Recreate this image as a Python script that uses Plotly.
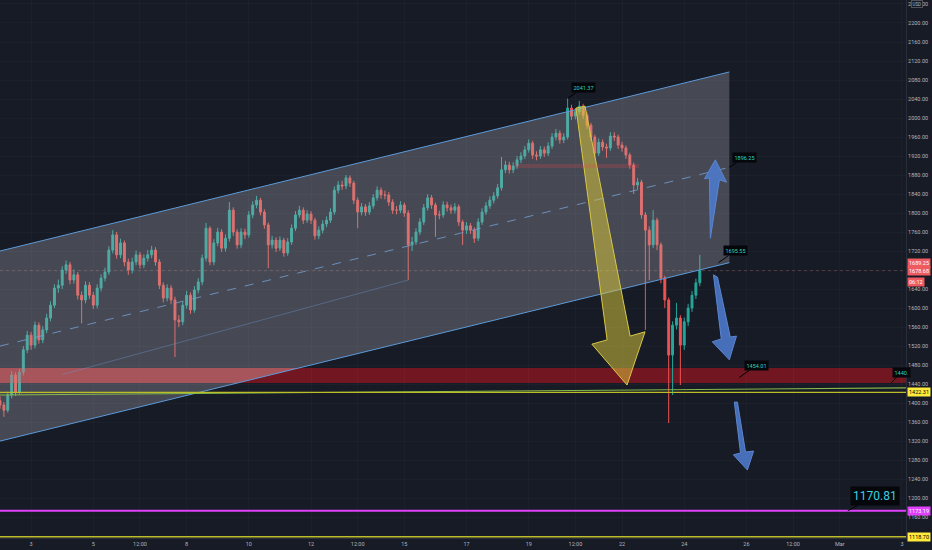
import pandas as pd
import plotly.graph_objects as go

# 3-hour candles, starting 2022-02-02 00:00
first_open = 1405
closes = [1396, 1385, 1417, 1459, 1423, 1465, 1512, 1543, 1522, 1564,
          1533, 1554, 1579, 1606, 1642, 1648, 1680, 1691, 1659, 1670,
          1627, 1617, 1648, 1627, 1606, 1642, 1663, 1676, 1722, 1754,
          1712, 1737, 1697, 1680, 1697, 1712, 1691, 1705, 1712, 1722,
          1697, 1648, 1621, 1642, 1617, 1575, 1571, 1606, 1627, 1596,
          1638, 1655, 1705, 1768, 1697, 1737, 1760, 1726, 1747, 1806,
          1760, 1733, 1760, 1754, 1796, 1817, 1827, 1802, 1775, 1733,
          1743, 1726, 1743, 1716, 1739, 1768, 1796, 1806, 1785, 1798,
          1785, 1752, 1764, 1777, 1785, 1802, 1848, 1859, 1857, 1874,
          1863, 1827, 1802, 1813, 1802, 1815, 1832, 1848, 1838, 1838,
          1823, 1806, 1806, 1817, 1800, 1733, 1739, 1760, 1781, 1811,
          1832, 1817, 1796, 1796, 1817, 1811, 1806, 1813, 1781, 1764,
          1773, 1764, 1747, 1781, 1802, 1815, 1827, 1836, 1853, 1891,
          1901, 1891, 1899, 1912, 1920, 1933, 1947, 1922, 1920, 1933,
          1926, 1941, 1960, 1968, 1954, 1960, 2021, 2004, 2013, 2025,
          2006, 1985, 1960, 1926, 1949, 1939, 1937, 1962, 1960, 1943,
          1937, 1922, 1901, 1859, 1865, 1796, 1764, 1733, 1785, 1733,
          1663, 1617, 1501, 1564, 1579, 1522, 1571, 1600, 1627, 1653,
          1679]
highs = [1414, 1402, 1424, 1468, 1465, 1472, 1520, 1552, 1550, 1572,
         1570, 1562, 1588, 1614, 1650, 1660, 1688, 1700, 1697, 1681,
         1676, 1635, 1656, 1655, 1634, 1650, 1671, 1685, 1730, 1764,
         1760, 1746, 1742, 1704, 1706, 1721, 1718, 1713, 1722, 1731,
         1728, 1703, 1654, 1650, 1648, 1624, 1585, 1614, 1636, 1633,
         1646, 1663, 1713, 1779, 1772, 1745, 1769, 1766, 1755, 1823,
         1812, 1766, 1768, 1767, 1804, 1825, 1836, 1832, 1808, 1780,
         1752, 1749, 1751, 1748, 1747, 1776, 1804, 1815, 1812, 1806,
         1804, 1790, 1772, 1785, 1793, 1810, 1856, 1867, 1868, 1880,
         1879, 1868, 1833, 1821, 1819, 1823, 1840, 1856, 1854, 1847,
         1844, 1829, 1815, 1825, 1822, 1806, 1750, 1768, 1789, 1819,
         1840, 1838, 1822, 1805, 1825, 1824, 1818, 1821, 1818, 1786,
         1781, 1779, 1770, 1789, 1810, 1823, 1835, 1844, 1861, 1918,
         1910, 1908, 1907, 1920, 1928, 1941, 1955, 1952, 1930, 1941,
         1940, 1949, 1968, 1977, 1974, 1968, 2042, 2028, 2021, 2036,
         2030, 2011, 1990, 1965, 1957, 1955, 1946, 1970, 1970, 1965,
         1950, 1942, 1927, 1906, 1874, 1870, 1802, 1772, 1806, 1790,
         1738, 1668, 1622, 1572, 1611, 1585, 1580, 1609, 1636, 1662,
         1712]
lows = [1388, 1371, 1380, 1410, 1415, 1418, 1458, 1505, 1512, 1515,
        1525, 1526, 1547, 1572, 1600, 1632, 1640, 1672, 1650, 1651,
        1618, 1568, 1610, 1619, 1598, 1599, 1635, 1656, 1670, 1715,
        1704, 1705, 1688, 1670, 1673, 1690, 1683, 1684, 1698, 1705,
        1689, 1640, 1612, 1614, 1608, 1497, 1560, 1564, 1599, 1588,
        1590, 1631, 1648, 1698, 1690, 1690, 1730, 1718, 1719, 1740,
        1752, 1725, 1726, 1745, 1748, 1789, 1810, 1795, 1767, 1684,
        1725, 1718, 1720, 1708, 1710, 1733, 1762, 1790, 1777, 1779,
        1777, 1744, 1745, 1757, 1770, 1779, 1796, 1841, 1849, 1850,
        1855, 1819, 1768, 1795, 1794, 1796, 1809, 1826, 1830, 1829,
        1815, 1798, 1797, 1800, 1792, 1659, 1720, 1733, 1754, 1775,
        1805, 1809, 1750, 1787, 1790, 1803, 1798, 1799, 1773, 1733,
        1756, 1756, 1737, 1741, 1775, 1796, 1809, 1820, 1830, 1847,
        1884, 1883, 1884, 1893, 1905, 1914, 1927, 1914, 1911, 1914,
        1918, 1920, 1935, 1953, 1946, 1947, 1955, 1996, 1997, 2007,
        1998, 1977, 1952, 1917, 1920, 1931, 1916, 1931, 1952, 1935,
        1929, 1914, 1893, 1840, 1850, 1788, 1554, 1659, 1726, 1722,
        1652, 1600, 1358, 1417, 1555, 1438, 1512, 1562, 1592, 1619,
        1646]

tick_dates = ["2022-02-03", "2022-02-05", "2022-02-06 12:00", "2022-02-08",
              "2022-02-10", "2022-02-12", "2022-02-13 12:00", "2022-02-15",
              "2022-02-17", "2022-02-19", "2022-02-20 12:00", "2022-02-22",
              "2022-02-24", "2022-02-26", "2022-02-27 12:00", "2022-03-01",
              "2022-03-03"]
tick_text = ["3", "5", "12:00", "8", "10", "12", "12:00", "15", "17", "19",
             "12:00", "22", "24", "26", "12:00", "Mar", "3"]

# drawing levels
zone_low, zone_high = 1442, 1474
yellow_level = 1422.31
magenta_level = 1173.19
bottom_level = 1118.70
last_price = 1678.68
green_start, green_end = 1417, 1432

# channel: start/end (days from start), lower/mid/upper prices
chan_days = [0, 23.45]
chan_lower = [1320, 1695.55]
chan_mid = [1520, 1896.25]
chan_upper = [1720, 2096.95]

# arrows (day offset, price)
yellow_arrow_d = [18.52, 18.81, 20.26, 20.74, 20.16, 19.03, 19.52]
yellow_arrow_p = [2021, 2025, 1541, 1550, 1438, 1524, 1533]
up_arrow_d = [22.84, 22.81, 22.65, 23.0, 23.36, 23.13]
up_arrow_p = [1747, 1874, 1872, 1912, 1865, 1870]
mid_arrow_d = [22.94, 23.07, 23.48, 23.68, 23.45, 22.90, 23.19]
mid_arrow_p = [1670, 1665, 1539, 1541, 1491, 1529, 1535]
low_arrow_d = [23.61, 23.71, 23.97, 24.23, 24.03, 23.58, 23.81]
low_arrow_p = [1402, 1402, 1297, 1299, 1259, 1291, 1295]

BG = "#171b26"
UP = "#26a69a"
DOWN = "#ef5350"
CYAN = "#2fd5c8"
AXIS_TXT = "#b2b5be"

start = pd.Timestamp("2022-02-02 00:00")
times = pd.date_range(start, periods=len(closes), freq="3h")
opens = [first_open] + closes[:-1]


def day(d):
    return start + pd.Timedelta(days=d)


x_end = day(29.13)

fig = go.Figure()

fig.add_trace(go.Candlestick(
    x=times, open=opens, high=highs, low=lows, close=closes,
    increasing=dict(line=dict(color=UP, width=1), fillcolor=UP),
    decreasing=dict(line=dict(color=DOWN, width=1), fillcolor=DOWN),
    whiskerwidth=0, hoverinfo="skip", showlegend=False))

# channel fill drawn over the candles like a chart drawing
cx = [day(d) for d in chan_days]
fig.add_trace(go.Scatter(
    x=cx + cx[::-1], y=chan_lower + chan_upper[::-1],
    fill="toself", fillcolor="rgba(180,183,190,0.30)",
    line=dict(width=0), mode="lines", hoverinfo="skip", showlegend=False))

# part of the red zone that sits inside the channel is lighter
slope = (chan_lower[1] - chan_lower[0]) / (chan_days[1] - chan_days[0])
d_lo = (zone_low - chan_lower[0]) / slope
d_hi = (zone_high - chan_lower[0]) / slope
fig.add_trace(go.Scatter(
    x=[day(0), day(d_lo), day(d_hi), day(0)],
    y=[zone_low, zone_low, zone_high, zone_high],
    fill="toself", fillcolor="rgba(225,105,110,0.38)",
    line=dict(width=0), mode="lines", hoverinfo="skip", showlegend=False))

for ys in (chan_lower, chan_upper):
    fig.add_trace(go.Scatter(
        x=cx, y=ys, mode="lines", line=dict(color="#5d9ad8", width=1),
        hoverinfo="skip", showlegend=False))
fig.add_trace(go.Scatter(
    x=cx, y=chan_mid, mode="lines",
    line=dict(color="rgba(120,165,220,0.75)", width=1, dash="dash"),
    hoverinfo="skip", showlegend=False))
# faint trendline along the lows
fig.add_trace(go.Scatter(
    x=[day(2.0), times[105]], y=[1460, 1659], mode="lines",
    line=dict(color="rgba(110,150,210,0.4)", width=1),
    hoverinfo="skip", showlegend=False))

# arrows
arrows = [
    (yellow_arrow_d, yellow_arrow_p, "rgba(225,205,60,0.50)", "#d8c845"),
    (up_arrow_d, up_arrow_p, "rgba(78,122,205,0.88)", "#5a86d0"),
    (mid_arrow_d, mid_arrow_p, "rgba(78,122,205,0.88)", "#5a86d0"),
    (low_arrow_d, low_arrow_p, "rgba(78,122,205,0.88)", "#5a86d0"),
]
for ds, ps, fillc, linec in arrows:
    fig.add_trace(go.Scatter(
        x=[day(d) for d in ds + ds[:1]], y=ps + ps[:1],
        fill="toself", fillcolor=fillc, mode="lines",
        line=dict(color=linec, width=1), hoverinfo="skip", showlegend=False))

shapes = [
    dict(type="rect", xref="paper", x0=0, x1=1, yref="y", y0=zone_low, y1=zone_high,
         fillcolor="rgba(190,20,30,0.55)", line=dict(width=0), layer="below"),
    dict(type="rect", xref="x", x0=day(16.55), x1=day(20.55), yref="y", y0=1895, y1=1903,
         fillcolor="rgba(230,70,80,0.22)", line=dict(width=0), layer="above"),
    dict(type="line", xref="paper", x0=0, x1=1, yref="y", y0=last_price, y1=last_price,
         line=dict(color="rgba(190,120,110,0.35)", width=1, dash="dot"), layer="below"),
    dict(type="line", xref="x", x0=day(0), x1=x_end, yref="y", y0=green_start, y1=green_end,
         line=dict(color="#86b84a", width=1.2), layer="above"),
    dict(type="line", xref="paper", x0=0, x1=1, yref="y", y0=yellow_level, y1=yellow_level,
         line=dict(color="#bdbd2a", width=1.2), layer="above"),
    dict(type="line", xref="paper", x0=0, x1=1, yref="y", y0=magenta_level, y1=magenta_level,
         line=dict(color="#e040fb", width=2), layer="above"),
    dict(type="line", xref="paper", x0=0, x1=1, yref="y", y0=bottom_level, y1=bottom_level,
         line=dict(color="#bdbd2a", width=1.5), layer="above"),
]

small = dict(family="Roboto, Arial, sans-serif", size=5.5)
callouts = [
    ("2041.37", times[146], 2041.37, 16, -11),
    ("1896.25", day(chan_days[1]), chan_mid[1], 15, -10),
    ("1695.55", day(23.1), 1695.55, 17, -12),
    ("1454.01", day(23.77), 1454.01, 17, -12),
    ("1440.", day(28.65), 1442, 10, -11),
]
annotations = []
for txt, x, y, ax, ay in callouts:
    annotations.append(dict(
        x=x, y=y, xref="x", yref="y", text=txt, showarrow=True, ax=ax, ay=ay,
        arrowhead=0, arrowwidth=1, arrowcolor="#000000", standoff=0,
        bgcolor="#05070a", borderpad=1.5, font=dict(small, color=CYAN)))
annotations.append(dict(
    x=day(27.26), y=magenta_level, xref="x", yref="y", text="1170.81", showarrow=True,
    ax=27, ay=-15, arrowhead=0, arrowwidth=1, arrowcolor="#000000", standoff=0,
    bgcolor="#05070a", borderpad=2,
    font=dict(family="Roboto, Arial, sans-serif", size=12, color="#3ad0e0")))

# price-axis labels
axis_labels = [
    ("1689.25", 1689.25, "#ee5a5f", "#ffffff", 3),
    ("1678.68", last_price, "#ee5a5f", "#ffffff", 0),
    ("06:12", last_price, "#ee5a5f", "#ffffff", -11),
    ("1422.31", yellow_level, "#ffeb3b", "#000000", 0),
    ("1173.19", magenta_level, "#e040fb", "#ffffff", 0),
    ("1118.70", bottom_level, "#ffeb3b", "#000000", 0),
]
for txt, y, bg, fc, ys in axis_labels:
    annotations.append(dict(
        x=1, xref="paper", xanchor="left", xshift=1, y=y, yref="y", yshift=ys,
        text=txt, showarrow=False, bgcolor=bg, borderpad=1,
        font=dict(small, color=fc)))
annotations.append(dict(
    x=1, xref="paper", xanchor="left", xshift=5, y=2240, yref="y",
    text="USD", showarrow=False, bgcolor=BG, bordercolor="#50535e", borderwidth=1,
    borderpad=0.5, font=dict(small, size=4.5, color=AXIS_TXT)))

fig.update_layout(
    width=932, height=550,
    margin=dict(l=0, r=26, t=0, b=12),
    paper_bgcolor=BG, plot_bgcolor=BG,
    showlegend=False,
    shapes=shapes, annotations=annotations,
    xaxis=dict(
        type="date", range=[start, x_end], rangeslider=dict(visible=False),
        tickvals=tick_dates, ticktext=tick_text, tickfont=dict(small, color=AXIS_TXT),
        showgrid=True, gridcolor="rgba(255,255,255,0.025)", zeroline=False,
        showline=True, linecolor="#2a2e39", ticks="", fixedrange=True),
    yaxis=dict(
        side="right", range=[1116, 2248.4], dtick=40, tick0=0, tickformat=".2f",
        tickfont=dict(small, color=AXIS_TXT), showgrid=True,
        gridcolor="rgba(255,255,255,0.025)", zeroline=False,
        showline=True, linecolor="#2a2e39", ticks="", automargin=False),
)

# page body margin off so the 932x550 figure fills the window
fig.write_html("out.html", config={"displayModeBar": False},
               post_script="document.body.style.margin='0';"
               "document.body.style.background='#171b26';")
